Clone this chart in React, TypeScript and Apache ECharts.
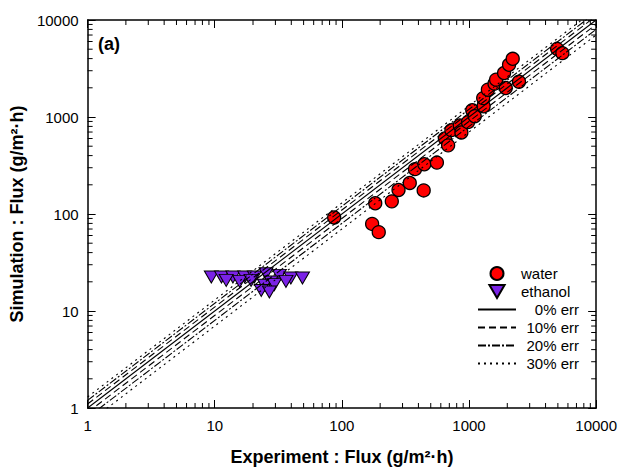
import React, { useEffect, useRef } from 'react';
import * as echarts from 'echarts';

const FONT = "'Liberation Sans', Arial, Helvetica, sans-serif";

// Axis ticks
const majorTickLabels = ['1', '10', '100', '1000', '10000'];
const minorTickValues: number[] = [];
for (let d = 0; d < 4; d++) {
  for (let k = 2; k <= 9; k++) minorTickValues.push(k * Math.pow(10, d));
}

// Water: experiment vs simulation flux
const waterExp = [87, 173, 195, 183, 247, 279, 342, 440, 376, 445, 559, 646, 685, 727, 846, 871, 982, 1061, 1109, 1303, 1293, 1407, 1588, 1634, 1945, 1888, 2065, 2207, 2472, 4932, 5425];
const waterSim = [92, 79, 65, 129, 135, 177, 209, 175, 290, 326, 339, 602, 510, 732, 818, 693, 885, 1174, 1019, 1291, 1566, 1914, 2206, 2425, 1992, 2840, 3454, 3981, 2312, 5044, 4553];

// Ethanol
const ethanolExp = [9.4, 11.3, 13.9, 17.2, 20.5, 25.3, 32.2, 39.7, 49, 12.3, 15.7, 19.3, 27.7, 24.6, 29.4, 23.2, 26.9, 36.3];
const ethanolSim = [22.4, 22.4, 22.4, 22.4, 22.4, 24.2, 23.3, 21.9, 21.9, 20.7, 20.2, 20.7, 19.9, 18.4, 18.7, 16.3, 15.7, 20.2];

// Error bands
const errLevels = [0, 0.1, 0.2, 0.3];
const errNames = ['0% err', '10% err', '20% err', '30% err'];
const errDash: any[] = ['solid', [7, 4], [8, 2, 2, 2], [2, 4]];
const axisRange = [1, 10000];

function buildOption() {
  const series: any[] = [
    {
      name: 'water',
      type: 'scatter',
      data: waterExp.map((x, i) => [x, waterSim[i]]),
      symbol: 'circle',
      symbolSize: 13,
      itemStyle: { color: '#ff0000', borderColor: '#000', borderWidth: 1.3, opacity: 1 },
    },
    {
      name: 'ethanol',
      type: 'scatter',
      data: ethanolExp.map((x, i) => [x, ethanolSim[i]]),
      symbol: 'triangle',
      symbolRotate: 180,
      symbolSize: [14, 12],
      itemStyle: { color: '#7a22e6', borderColor: '#000', borderWidth: 1, opacity: 1 },
    },
  ];
  errLevels.forEach((e, i) => {
    const factors = e === 0 ? [1] : [1 + e, 1 - e];
    factors.forEach((f) => {
      series.push({
        name: errNames[i],
        type: 'line',
        symbol: 'none',
        showSymbol: false,
        clip: true,
        silent: true,
        data: axisRange.map((v) => [v, v * f]),
        lineStyle: { color: '#000', width: 1.1, type: errDash[i] },
        itemStyle: { color: '#000' },
      });
    });
  });

  // minor ticks on all four sides, drawn as tiny rect symbols placed by the axes' scales
  const tickSeries = (name: string, data: number[][], size: number[], offset: number[]) => ({
    type: 'scatter',
    name,
    silent: true,
    clip: false,
    z: 5,
    symbol: 'rect',
    symbolSize: size,
    symbolOffset: offset,
    itemStyle: { color: '#000', borderWidth: 0, opacity: 1 },
    data,
  });
  series.push(tickSeries('minorBottom', minorTickValues.map((v) => [v, axisRange[0]]), [1, 5], [0, -2.5]));
  series.push(tickSeries('minorTop', minorTickValues.map((v) => [v, axisRange[1]]), [1, 5], [0, 2.5]));
  series.push(tickSeries('minorLeft', minorTickValues.map((v) => [axisRange[0], v]), [5, 1], [2.5, 0]));
  series.push(tickSeries('minorRight', minorTickValues.map((v) => [axisRange[1], v]), [5, 1], [-2.5, 0]));

  const logAxisBase = {
    type: 'log',
    logBase: 10,
    min: 1,
    max: 10000,
    splitLine: { show: false },
    axisLine: { show: true, onZero: false, lineStyle: { color: '#000', width: 1.5 } },
    axisTick: { show: true, inside: true, length: 8, lineStyle: { color: '#000', width: 1 } },
  };
  const labelStyle = {
    show: true,
    fontFamily: FONT,
    fontSize: 15,
    color: '#000',
    formatter: (v: number) => {
      const idx = Math.round(Math.log10(v));
      return majorTickLabels[idx] ?? String(Math.round(v));
    },
  };
  const titleStyle = { fontFamily: FONT, fontSize: 18, fontWeight: 'bold', color: '#000' };

  const legendData = [
    { name: 'water' },
    { name: 'ethanol', icon: 'path://M0,0 L14,0 L7,12 Z' },
    ...errNames.map((n) => ({ name: n, itemStyle: { opacity: 0, borderWidth: 0 } })),
  ];

  return {
    animation: false,
    backgroundColor: '#fff',
    grid: { left: 87, right: 21, top: 20, bottom: 61, containLabel: false },
    xAxis: [
      {
        ...logAxisBase,
        position: 'bottom',
        axisLabel: { ...labelStyle, margin: 10 },
        name: 'Experiment : Flux (g/m²·h)',
        nameLocation: 'middle',
        nameGap: 40,
        nameTextStyle: titleStyle,
      },
      { ...logAxisBase, position: 'top', axisLabel: { show: false } },
    ],
    yAxis: [
      {
        ...logAxisBase,
        position: 'left',
        axisLabel: { ...labelStyle, margin: 9 },
        name: 'Simulation : Flux (g/m²·h)',
        nameLocation: 'middle',
        nameGap: 56,
        nameRotate: 90,
        nameTextStyle: titleStyle,
      },
      { ...logAxisBase, position: 'right', axisLabel: { show: false } },
    ],
    legend: {
      data: legendData,
      orient: 'vertical',
      left: 477,
      top: 266,
      padding: 0,
      itemWidth: 38,
      itemHeight: 13,
      itemGap: 3,
      selectedMode: false,
      symbolKeepAspect: true,
      formatter: (name: string) => (name.indexOf('err') >= 0 ? `{r|${name}}` : `{l|${name}}`),
      textStyle: {
        fontFamily: FONT,
        fontSize: 15,
        color: '#000',
        rich: {
          l: { width: 58, align: 'left', fontFamily: FONT, fontSize: 15, lineHeight: 18, color: '#000' },
          r: { width: 58, align: 'right', fontFamily: FONT, fontSize: 15, lineHeight: 18, color: '#000' },
        },
      },
    },
    graphic: [
      {
        type: 'text',
        left: 98,
        top: 35,
        style: { text: '(a)', fontFamily: FONT, fontSize: 18, fontWeight: 'bold', fill: '#000' },
      },
    ],
    series,
  };
}

export default function App() {
  const ref = useRef<HTMLDivElement>(null);
  useEffect(() => {
    if (!ref.current) return;
    const chart = echarts.init(ref.current, null, { renderer: 'svg' });
    chart.setOption(buildOption() as any);
    return () => chart.dispose();
  }, []);
  return (
    <div
      ref={ref}
      style={{ position: 'absolute', left: 0, top: 0, width: 620, height: 471, background: '#fff' }}
    />
  );
}
